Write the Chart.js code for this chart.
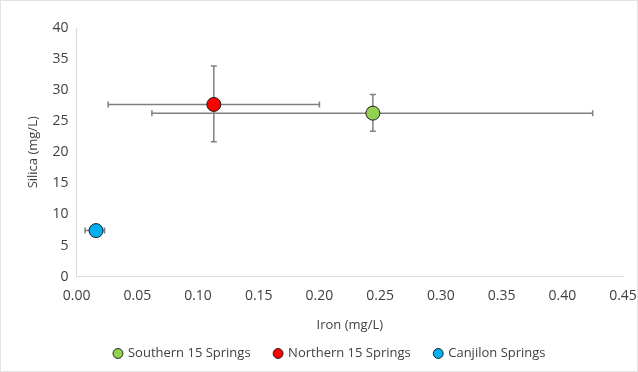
<!DOCTYPE html>
<html>
<head>
<meta charset="utf-8">
<script src="https://cdn.jsdelivr.net/npm/chart.js@4.4.1/dist/chart.umd.min.js"></script>
<style>
  html, body { margin: 0; padding: 0; background: #fff; }
  #wrap { position: relative; width: 636px; height: 370px; border: 1px solid #e3e3e3; }
</style>
</head>
<body>
<div id="wrap"><canvas id="chart" width="636" height="370"></canvas></div>
<script>
// 数据
const seriesNames = ['Southern 15 Springs', 'Northern 15 Springs', 'Canjilon Springs'];
const seriesColors = ['#92d050', '#ff0000', '#00b0f0'];
const ironValues = [0.244, 0.113, 0.016];
const silicaValues = [26.3, 27.7, 7.4];
// 误差范围
const ironLow = [0.062, 0.026, 0.007];
const ironHigh = [0.425, 0.200, 0.023];
const silicaLow = [23.4, 21.7, 7.4];
const silicaHigh = [29.3, 33.9, 7.4];

const xTicks = [0, 0.05, 0.10, 0.15, 0.20, 0.25, 0.30, 0.35, 0.40, 0.45];
const yTicks = [0, 5, 10, 15, 20, 25, 30, 35, 40];

const font = '"Open Sans", "Liberation Sans", sans-serif';

// 误差线插件
const errorBars = {
  id: 'errorBars',
  beforeDatasetsDraw(chart) {
    const ctx = chart.ctx;
    const xs = chart.scales.x, ys = chart.scales.y;
    const cap = 3;
    ctx.save();
    ctx.strokeStyle = '#7f7f7f';
    ctx.lineWidth = 1.5;
    for (let i = 0; i < seriesNames.length; i++) {
      const cy = ys.getPixelForValue(silicaValues[i]);
      const cx = xs.getPixelForValue(ironValues[i]);
      const x1 = xs.getPixelForValue(ironLow[i]), x2 = xs.getPixelForValue(ironHigh[i]);
      ctx.beginPath();
      ctx.moveTo(x1, cy); ctx.lineTo(x2, cy);
      ctx.moveTo(x1, cy - cap); ctx.lineTo(x1, cy + cap);
      ctx.moveTo(x2, cy - cap); ctx.lineTo(x2, cy + cap);
      if (silicaHigh[i] !== silicaLow[i]) {
        const y1 = ys.getPixelForValue(silicaLow[i]), y2 = ys.getPixelForValue(silicaHigh[i]);
        ctx.moveTo(cx, y1); ctx.lineTo(cx, y2);
        ctx.moveTo(cx - cap, y1); ctx.lineTo(cx + cap, y1);
        ctx.moveTo(cx - cap, y2); ctx.lineTo(cx + cap, y2);
      }
      ctx.stroke();
    }
    ctx.restore();
  }
};

new Chart(document.getElementById('chart'), {
  type: 'scatter',
  data: {
    datasets: seriesNames.map((name, i) => ({
      label: name,
      data: [{ x: ironValues[i], y: silicaValues[i] }],
      backgroundColor: seriesColors[i],
      borderColor: '#1f1f1f',
      borderWidth: 1,
      pointRadius: 7,
      pointHoverRadius: 7
    }))
  },
  options: {
    responsive: false,
    animation: false,
    devicePixelRatio: 1,
    layout: { padding: { left: 24, right: 2, top: 27, bottom: 1 } },
    plugins: {
      tooltip: { enabled: false },
      legend: {
        position: 'bottom',
        labels: {
          usePointStyle: true,
          pointStyle: 'circle',
          boxWidth: 7,
          boxHeight: 7,
          padding: 24,
          color: '#404040',
          font: { family: font, size: 13 }
        }
      }
    },
    scales: {
      x: {
        type: 'linear',
        min: 0,
        max: 0.45,
        afterBuildTicks: (s) => { s.ticks = xTicks.map(v => ({ value: v })); },
        afterFit: (s) => { s.paddingRight = 14; },
        grid: { display: false, drawTicks: false },
        border: { color: '#d9d9d9', width: 1 },
        ticks: {
          color: '#404040',
          padding: 11,
          font: { family: font, size: 14 },
          callback: (v) => Number(v).toFixed(2)
        },
        title: { display: true, text: 'Iron (mg/L)', color: '#404040', font: { family: font, size: 13 }, padding: { top: 2, bottom: -10 } }
      },
      y: {
        type: 'linear',
        min: 0,
        max: 40,
        afterBuildTicks: (s) => { s.ticks = yTicks.map(v => ({ value: v })); },
        grid: { display: false, drawTicks: false },
        border: { color: '#d9d9d9', width: 1 },
        ticks: {
          color: '#404040',
          padding: 8,
          font: { family: font, size: 14 }
        },
        title: { display: true, text: 'Silica (mg/L)', color: '#404040', font: { family: font, size: 13 }, padding: { top: 0, bottom: 4 } }
      }
    }
  },
  plugins: [errorBars]
});
</script>
</body>
</html>
